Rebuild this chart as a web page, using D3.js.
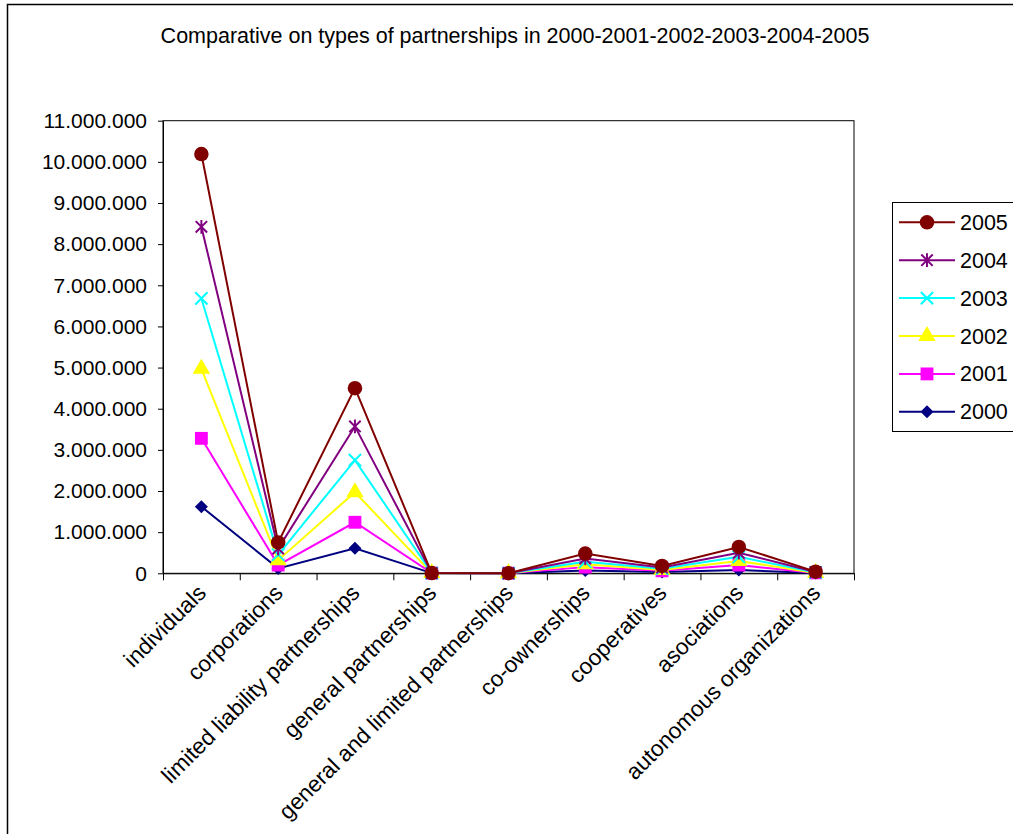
<!DOCTYPE html>
<html>
<head>
<meta charset="utf-8">
<script src="https://cdn.jsdelivr.net/npm/d3@7"></script>
<style>
body { margin: 0; background: #fff; }
svg { display: block; font-family: "Liberation Sans", Arial, sans-serif; }
</style>
</head>
<body>
<script>
// chart data
var categories = ["individuals", "corporations", "limited liability partnerships",
	"general partnerships", "general and limited partnerships", "co-ownerships",
	"cooperatives", "asociations", "autonomous organizations"];
var years = ["2000", "2001", "2002", "2003", "2004", "2005"];
var values2000 = [1620000, 120000, 610000, 5000, 2000, 70000, 30000, 80000, 5000];
var values2001 = [3280000, 200000, 1240000, 5000, 2000, 150000, 60000, 200000, 10000];
var values2002 = [4970000, 320000, 1970000, 5000, 2000, 220000, 80000, 300000, 10000];
var values2003 = [6680000, 450000, 2750000, 5000, 2000, 280000, 110000, 400000, 20000];
var values2004 = [8420000, 600000, 3570000, 5000, 2000, 360000, 140000, 500000, 30000];
var values2005 = [10190000, 750000, 4500000, 5000, 2000, 480000, 180000, 640000, 40000];
var yTicks = [0, 1000000, 2000000, 3000000, 4000000, 5000000, 6000000, 7000000, 8000000, 9000000, 10000000, 11000000];
var title = "Comparative on types of partnerships in 2000-2001-2002-2003-2004-2005";

var width = 1013, height = 834;
var plot = {left: 163, right: 854, top: 120.7, bottom: 573.3};

// marker shapes in the Excel style
var symX = {draw: function(ctx, size) {
	var r = Math.sqrt(size) / 2;
	ctx.moveTo(-r, -r); ctx.lineTo(r, r);
	ctx.moveTo(-r, r); ctx.lineTo(r, -r);
}};
var symStar = {draw: function(ctx, size) {
	var r = Math.sqrt(size) / 2;
	ctx.moveTo(-r, -r); ctx.lineTo(r, r);
	ctx.moveTo(-r, r); ctx.lineTo(r, -r);
	ctx.moveTo(0, -r * 1.2); ctx.lineTo(0, r * 1.2);
}};
var symDiamond = {draw: function(ctx, size) {
	var r = Math.sqrt(size) / 2;
	ctx.moveTo(0, -r); ctx.lineTo(r, 0); ctx.lineTo(0, r); ctx.lineTo(-r, 0);
	ctx.closePath();
}};

var series = [
	{name: "2000", values: values2000, color: "#000080", type: symDiamond, size: 170, stroke: false},
	{name: "2001", values: values2001, color: "#FF00FF", type: d3.symbolSquare, size: 165, stroke: false},
	{name: "2002", values: values2002, color: "#FFFF00", type: d3.symbolTriangle, size: 130, stroke: false},
	{name: "2003", values: values2003, color: "#00FFFF", type: symX, size: 150, stroke: true},
	{name: "2004", values: values2004, color: "#800080", type: symStar, size: 130, stroke: true},
	{name: "2005", values: values2005, color: "#800000", type: d3.symbolCircle, size: 165, stroke: false}
];

var svg = d3.select("body").append("svg")
	.attr("width", width)
	.attr("height", height);

// outer chart frame
svg.append("rect")
	.attr("x", 7.5).attr("y", 4.5)
	.attr("width", 1100).attr("height", 900)
	.attr("fill", "none").attr("stroke", "#000").attr("stroke-width", 1.5);

svg.append("text")
	.attr("x", 515).attr("y", 43)
	.attr("text-anchor", "middle")
	.style("font-size", "21.5px")
	.text(title);

var xScale = d3.scaleBand().domain(categories).range([plot.left, plot.right]);
var xEdge = d3.scaleLinear().domain([0, categories.length]).range([plot.left, plot.right]);
var yScale = d3.scaleLinear().domain([0, 11000000]).range([plot.bottom, plot.top]);

var locale = d3.formatLocale({decimal: ",", thousands: ".", grouping: [3], currency: ["", ""]});
var fmt = locale.format(",");

// plot area border
svg.append("rect")
	.attr("x", plot.left).attr("y", plot.top)
	.attr("width", plot.right - plot.left).attr("height", plot.bottom - plot.top)
	.attr("fill", "none").attr("stroke", "#000").attr("stroke-width", 1);

var yAxis = d3.axisLeft(yScale)
	.tickValues(yTicks)
	.tickFormat(fmt)
	.tickSize(5)
	.tickSizeOuter(0)
	.tickPadding(11);
var gy = svg.append("g")
	.attr("transform", "translate(" + plot.left + ",0)")
	.call(yAxis);
gy.selectAll("text").style("font-size", "21px").attr("fill", "#000").attr("font-family", "Liberation Sans, Arial, sans-serif");

var xAxis = d3.axisBottom(xEdge)
	.tickValues(d3.range(categories.length + 1))
	.tickFormat("")
	.tickSize(7)
	.tickSizeOuter(0);
svg.append("g")
	.attr("transform", "translate(0," + plot.bottom + ")")
	.call(xAxis);

svg.selectAll(".xlabel")
	.data(categories)
	.enter()
	.append("text")
	.attr("class", "xlabel")
	.attr("text-anchor", "end")
	.attr("transform", function(d) {
		return "translate(" + (xScale(d) + xScale.bandwidth() / 2 + 6) + "," + (plot.bottom + 21) + ") rotate(-45)";
	})
	.style("font-size", "22.5px")
	.text(function(d) { return d; });

var line = d3.line()
	.x(function(d, i) { return xScale(categories[i]) + xScale.bandwidth() / 2; })
	.y(function(d) { return yScale(d); });

series.forEach(function(s) {
	var g = svg.append("g");
	g.append("path")
		.datum(s.values)
		.attr("d", line)
		.attr("fill", "none")
		.attr("stroke", s.color)
		.attr("stroke-width", 2);
	g.selectAll("path.mark")
		.data(s.values)
		.enter()
		.append("path")
		.attr("class", "mark")
		.attr("transform", function(d, i) {
			return "translate(" + (xScale(categories[i]) + xScale.bandwidth() / 2) + "," + yScale(d) + ")";
		})
		.attr("d", d3.symbol().type(s.type).size(s.size))
		.attr("fill", s.stroke ? "none" : s.color)
		.attr("stroke", s.stroke ? s.color : "none")
		.attr("stroke-width", 2);
});

// legend
var legend = svg.append("g");
legend.append("rect")
	.attr("x", 892.5).attr("y", 202.5)
	.attr("width", 140).attr("height", 229)
	.attr("fill", "#fff").attr("stroke", "#000").attr("stroke-width", 1);
var items = legend.selectAll("g.item")
	.data(series.slice().reverse())
	.enter()
	.append("g")
	.attr("class", "item")
	.attr("transform", function(d, i) { return "translate(0," + (222.3 + i * 37.9) + ")"; });
items.append("line")
	.attr("x1", 899).attr("x2", 955)
	.attr("stroke", function(d) { return d.color; })
	.attr("stroke-width", 2);
items.append("path")
	.attr("transform", "translate(927,0)")
	.attr("d", function(d) { return d3.symbol().type(d.type).size(d.size)(); })
	.attr("fill", function(d) { return d.stroke ? "none" : d.color; })
	.attr("stroke", function(d) { return d.stroke ? d.color : "none"; })
	.attr("stroke-width", 2);
items.append("text")
	.attr("x", 960).attr("y", 7.5)
	.style("font-size", "21.5px")
	.text(function(d) { return d.name; });
</script>
</body>
</html>
